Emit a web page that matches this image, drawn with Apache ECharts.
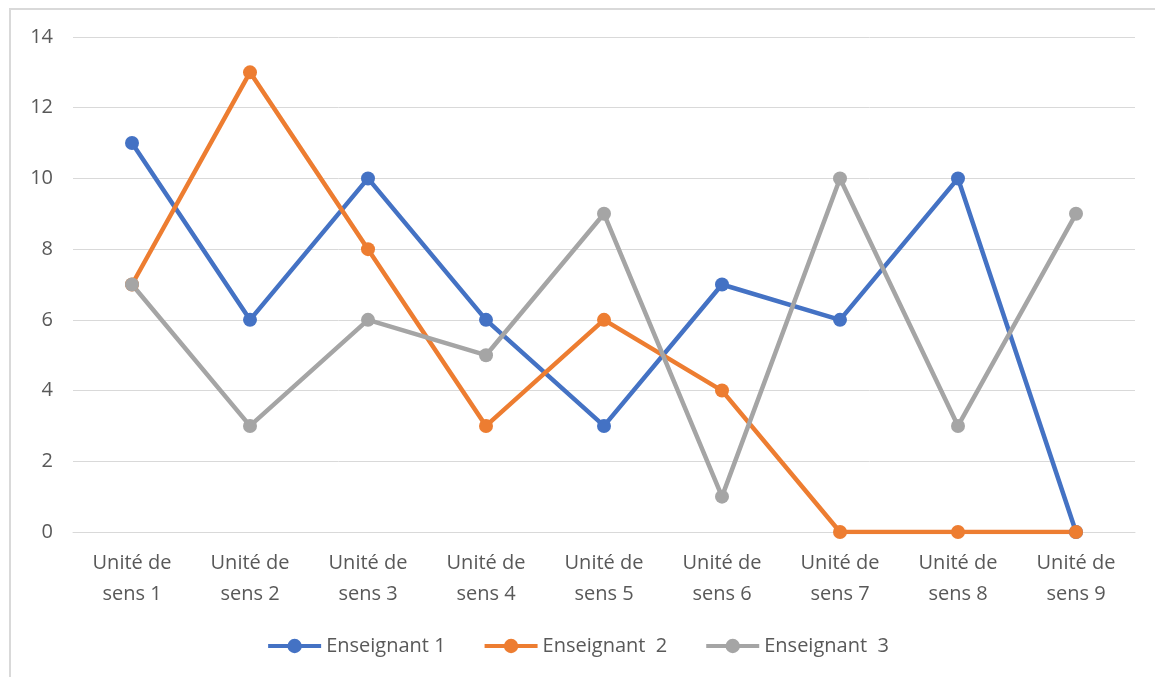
<!DOCTYPE html>
<html>
<head>
<meta charset="utf-8">
<script src="https://cdn.jsdelivr.net/npm/echarts@6/dist/echarts.min.js"></script>
<style>
    html, body { margin: 0; padding: 0; background: #fff; }
    #frame { position: absolute; left: 9px; top: 8px; width: 1160px; height: 680px; border-left: 2px solid #d9d9d9; border-top: 2px solid #d9d9d9; }
    #chart { position: absolute; left: 0; top: 0; width: 1155px; height: 677px; }
</style>
</head>
<body>
<div id="frame"></div>
<div id="chart"></div>
<script>
    // categories and values
    let categories = ['Unité de\nsens 1', 'Unité de\nsens 2', 'Unité de\nsens 3', 'Unité de\nsens 4', 'Unité de\nsens 5',
        'Unité de\nsens 6', 'Unité de\nsens 7', 'Unité de\nsens 8', 'Unité de\nsens 9']
    let seriesNames = ['Enseignant 1', 'Enseignant  2', 'Enseignant  3']
    let ens1 = [11, 6, 10, 6, 3, 7, 6, 10, 0]
    let ens2 = [7, 13, 8, 3, 6, 4, 0, 0, 0]
    let ens3 = [7, 3, 6, 5, 9, 1, 10, 3, 9]
    let colors = ['#4472C4', '#ED7D31', '#A5A5A5']

    let chart = echarts.init(document.getElementById('chart'))
    let font = '"Open Sans", "Liberation Sans", sans-serif'

    function makeSeries(name, data, color) {
        return {
            name: name,
            type: 'line',
            data: data,
            symbol: 'circle',
            symbolSize: 14,
            lineStyle: { width: 4.5, color: color },
            itemStyle: { color: color },
            emphasis: { disabled: true }
        }
    }

    const option = {
        animation: false,
        textStyle: { fontFamily: font },
        grid: { left: 73, right: 20, top: 37, bottom: 145 },
        legend: {
            bottom: 16,
            left: 'center',
            itemWidth: 53,
            itemHeight: 18,
            itemGap: 37,
            lineStyle: { width: 4 },
            textStyle: { fontSize: 20, color: '#595959', fontFamily: font },
            data: seriesNames
        },
        xAxis: {
            type: 'category',
            data: categories,
            boundaryGap: true,
            axisLine: { lineStyle: { color: '#d9d9d9', width: 1 } },
            axisTick: { show: false },
            axisLabel: { fontSize: 20, color: '#595959', lineHeight: 31, margin: 16, fontFamily: font }
        },
        yAxis: {
            type: 'value',
            min: 0,
            max: 14,
            interval: 2,
            axisLine: { show: false },
            axisTick: { show: false },
            axisLabel: { fontSize: 20, color: '#595959', margin: 20, fontFamily: font },
            splitLine: { lineStyle: { color: '#d9d9d9', width: 1 } }
        },
        series: [
            makeSeries(seriesNames[0], ens1, colors[0]),
            makeSeries(seriesNames[1], ens2, colors[1]),
            makeSeries(seriesNames[2], ens3, colors[2])
        ]
    }

    chart.setOption(option)
</script>
</body>
</html>
